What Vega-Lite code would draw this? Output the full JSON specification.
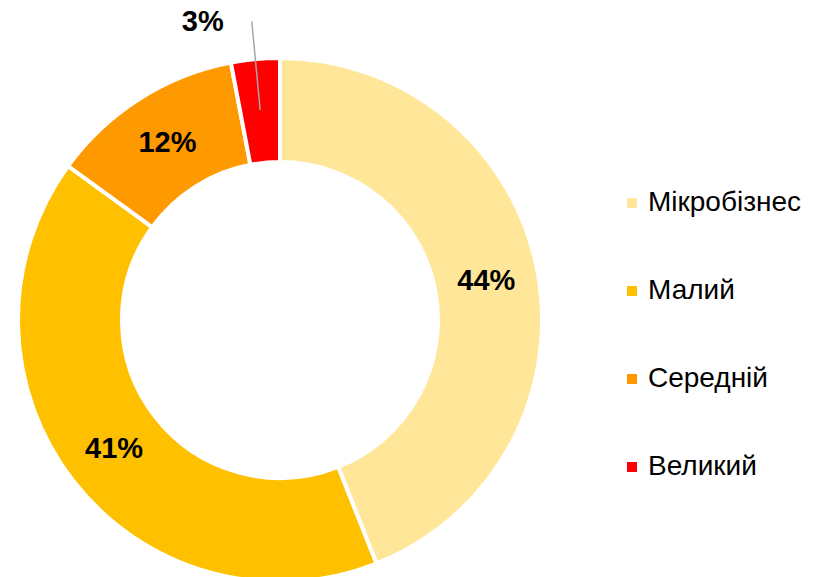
{
  "$schema": "https://vega.github.io/schema/vega-lite/v6.json",
  "width": 520,
  "height": 520,
  "padding": {"left": 20, "top": 60, "right": 276, "bottom": 0},
  "autosize": {"type": "none"},
  "background": "white",
  "config": {"view": {"stroke": null}, "font": "Liberation Sans"},
  "data": {
    "values": [
      {"size": "Мікробізнес", "share": 0.44, "order": 1},
      {"size": "Малий", "share": 0.41, "order": 2},
      {"size": "Середній", "share": 0.12, "order": 3},
      {"size": "Великий", "share": 0.03, "order": 4}
    ]
  },
  "encoding": {
    "theta": {"field": "share", "type": "quantitative", "stack": true},
    "order": {"field": "order", "type": "quantitative"}
  },
  "layer": [
    {
      "mark": {"type": "arc", "radius": 262, "radius2": 158, "stroke": "white", "strokeWidth": 4},
      "encoding": {
        "color": {
          "field": "size",
          "type": "nominal",
          "scale": {
            "domain": ["Мікробізнес", "Малий", "Середній", "Великий"],
            "range": ["#FFE699", "#FFC000", "#FF9900", "#FF0000"]
          },
          "legend": {
            "orient": "none",
            "legendX": 598,
            "legendY": 129,
            "title": null,
            "symbolType": "square",
            "symbolSize": 100,
            "symbolStrokeWidth": 0,
            "labelFontSize": 28,
            "labelFont": "Liberation Sans",
            "labelColor": "black",
            "rowPadding": 60,
            "labelOffset": 2,
            "padding": 0
          }
        }
      }
    },
    {
      "mark": {"type": "arc", "radius": 300, "radius2": 211, "padAngle": 0.3, "fill": null, "stroke": "#A6A6A6", "strokeWidth": 1.5},
      "encoding": {
        "strokeOpacity": {"condition": {"test": "datum.size === 'Великий'", "value": 1}, "value": 0}
      }
    },
    {
      "mark": {"type": "text", "radius": 210, "fontSize": 29, "fontWeight": "bold", "color": "black", "align": "center", "baseline": "middle"},
      "encoding": {
        "text": {"condition": {"test": "datum.size === 'Великий'", "value": ""}, "field": "share", "type": "quantitative", "format": ".0%"}
      }
    },
    {
      "mark": {"type": "text", "radius": 300, "dx": -28, "dy": 1, "fontSize": 29, "fontWeight": "bold", "color": "black", "align": "right", "baseline": "middle"},
      "encoding": {
        "text": {"condition": {"test": "datum.size === 'Великий'", "field": "share", "type": "quantitative", "format": ".0%"}, "value": ""}
      }
    }
  ]
}
